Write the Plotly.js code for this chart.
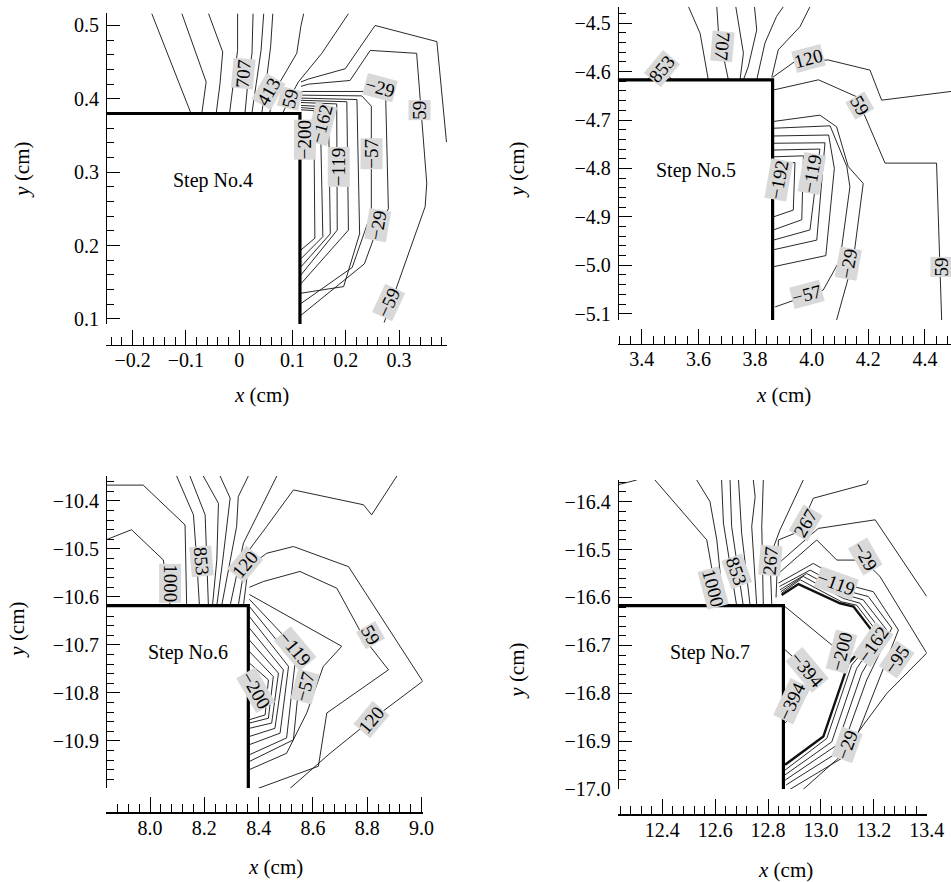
<!DOCTYPE html>
<html>
<head>
<meta charset="utf-8">
<script src="https://cdn.plot.ly/plotly-3.0.1.min.js"></script>
<style>html,body{margin:0;padding:0;background:#fff;}#chart{width:951px;height:882px;}</style>
</head>
<body>
<div id="chart"></div>
<script>
// ---------------- DATA ----------------
// Contour lines (x, y in cm), one array per panel
const panel1Contours = [
  [[-0.164,0.516],[-0.091,0.381]],
  [[-0.1075,0.516],[-0.062,0.423],[-0.07,0.381]],
  [[-0.0575,0.516],[-0.031,0.464],[-0.036,0.421],[-0.043,0.381]],
  [[-0.003,0.516],[-0.003,0.466],[-0.011,0.421],[-0.018,0.381]],
  [[0.026,0.516],[0.024,0.462],[0.016,0.421],[0.011,0.381]],
  [[0.046,0.516],[0.041,0.466],[0.032,0.421],[0.024,0.381]],
  [[0.063,0.516],[0.059,0.471],[0.051,0.425],[0.0425,0.381]],
  [[0.121,0.516],[0.116,0.5],[0.108,0.462],[0.071,0.416],[0.057,0.381]],
  [[0.205,0.516],[0.155,0.462],[0.111,0.423],[0.096,0.403],[0.082,0.381]],
  [[0.389,0.341],[0.371,0.478],[0.255,0.5],[0.199,0.441],[0.13,0.427],[0.116,0.423]],
  [[0.272,0.095],[0.349,0.253],[0.352,0.285],[0.333,0.462],[0.246,0.466],[0.208,0.425],[0.13,0.42],[0.116,0.417]],
  [[0.116,0.385],[0.14,0.384],[0.142,0.21],[0.116,0.194]],
  [[0.116,0.388],[0.152,0.386],[0.157,0.212],[0.116,0.182]],
  [[0.116,0.391],[0.1675,0.389],[0.171,0.216],[0.116,0.171]],
  [[0.116,0.395],[0.183,0.393],[0.184,0.221],[0.116,0.16]],
  [[0.116,0.398],[0.202,0.396],[0.205,0.221],[0.116,0.148]],
  [[0.116,0.401],[0.221,0.399],[0.226,0.216],[0.196,0.144],[0.116,0.135]],
  [[0.116,0.405],[0.23,0.404],[0.248,0.39],[0.248,0.245],[0.212,0.17],[0.116,0.121]],
  [[0.116,0.41],[0.235,0.41],[0.275,0.4],[0.28,0.25],[0.26,0.225],[0.235,0.175],[0.116,0.105]]
];
const panel2Contours = [
  [[3.418,-4.617],[3.471,-4.59],[3.506,-4.617]],
  [[3.565,-4.466],[3.606,-4.521],[3.635,-4.617]],
  [[3.665,-4.466],[3.671,-4.521],[3.706,-4.617]],
  [[3.732,-4.466],[3.759,-4.562],[3.747,-4.617]],
  [[3.798,-4.466],[3.806,-4.514],[3.776,-4.59],[3.759,-4.617]],
  [[3.9,-4.466],[3.876,-4.486],[3.835,-4.541],[3.806,-4.617]],
  [[3.994,-4.466],[3.959,-4.507],[3.882,-4.555],[3.859,-4.612]],
  [[3.862,-4.612],[3.941,-4.579],[4.059,-4.576],[4.206,-4.597],[4.247,-4.659],[4.492,-4.641]],
  [[3.865,-4.638],[4.024,-4.617],[4.159,-4.652],[4.259,-4.789],[4.441,-4.789],[4.459,-5.113]],
  [[3.865,-4.703],[4.029,-4.69],[4.088,-4.714],[4.129,-4.796],[4.182,-4.831],[4.147,-4.989],[4.088,-5.113]],
  [[3.865,-4.717],[4.065,-4.712],[4.124,-4.796],[4.135,-4.838],[4.1,-4.989],[4.041,-5.051],[3.871,-5.086]],
  [[3.865,-4.733],[4.06,-4.731],[4.08,-4.8],[4.05,-4.98],[3.865,-5.003]],
  [[3.865,-4.748],[4.047,-4.747],[4.018,-4.948],[3.865,-4.968]],
  [[3.865,-4.762],[4.029,-4.76],[3.994,-4.927],[3.865,-4.948]],
  [[3.865,-4.776],[3.971,-4.774],[3.965,-4.906],[3.865,-4.927]],
  [[3.865,-4.789],[3.941,-4.788],[3.935,-4.886],[3.865,-4.9]]
];
const panel3Contours = [
  [[7.838,-10.367],[7.975,-10.367],[8.129,-10.45],[8.135,-10.618]],
  [[7.838,-10.481],[7.932,-10.46],[8.049,-10.523],[8.074,-10.618]],
  [[8.098,-10.348],[8.16,-10.429],[8.172,-10.523],[8.182,-10.618]],
  [[8.147,-10.348],[8.203,-10.429],[8.209,-10.523],[8.215,-10.618]],
  [[8.196,-10.348],[8.252,-10.405],[8.246,-10.523],[8.23,-10.618]],
  [[8.258,-10.348],[8.295,-10.394],[8.268,-10.523],[8.246,-10.618]],
  [[8.362,-10.348],[8.325,-10.391],[8.319,-10.453],[8.264,-10.618]],
  [[8.467,-10.348],[8.344,-10.488],[8.295,-10.618]],
  [[8.909,-10.348],[8.816,-10.429],[8.786,-10.408],[8.528,-10.377],[8.43,-10.453],[8.356,-10.509],[8.325,-10.618]],
  [[8.344,-10.618],[8.362,-10.537],[8.43,-10.509],[8.528,-10.495],[8.731,-10.537],[9.004,-10.776],[8.816,-10.856],[8.663,-10.926],[8.516,-10.999]],
  [[8.366,-10.58],[8.417,-10.568],[8.552,-10.547],[8.688,-10.582],[8.792,-10.69],[8.878,-10.752],[8.651,-10.842],[8.62,-10.953],[8.399,-10.999]],
  [[8.366,-10.595],[8.645,-10.683],[8.706,-10.703],[8.638,-10.745],[8.577,-10.842],[8.503,-10.926],[8.366,-10.96]],
  [[8.366,-10.605],[8.559,-10.721],[8.528,-10.898],[8.366,-10.943]],
  [[8.366,-10.62],[8.534,-10.738],[8.503,-10.894],[8.366,-10.929]],
  [[8.366,-10.641],[8.51,-10.745],[8.479,-10.884],[8.366,-10.908]],
  [[8.366,-10.665],[8.491,-10.752],[8.46,-10.874],[8.366,-10.891]],
  [[8.366,-10.69],[8.473,-10.759],[8.448,-10.863],[8.366,-10.874]],
  [[8.366,-10.714],[8.454,-10.766],[8.436,-10.853],[8.366,-10.863]],
  [[8.366,-10.738],[8.436,-10.773],[8.424,-10.846],[8.366,-10.856]]
];
const panel4Contours = [
  [[12.231,-16.365],[12.303,-16.355]],
  [[12.372,-16.355],[12.568,-16.48],[12.612,-16.617]],
  [[12.53,-16.355],[12.58,-16.4],[12.606,-16.48],[12.631,-16.617]],
  [[12.624,-16.355],[12.631,-16.445],[12.681,-16.617]],
  [[12.656,-16.355],[12.662,-16.452],[12.706,-16.617]],
  [[12.688,-16.355],[12.7,-16.466],[12.732,-16.617]],
  [[12.744,-16.355],[12.751,-16.39],[12.738,-16.452],[12.757,-16.617]],
  [[12.782,-16.355],[12.776,-16.452],[12.782,-16.617]],
  [[12.933,-16.355],[12.845,-16.459],[12.807,-16.515],[12.814,-16.617]],
  [[13.179,-16.356],[13.173,-16.363],[12.971,-16.393],[12.915,-16.463],[12.839,-16.48],[12.83,-16.6]],
  [[12.839,-16.529],[12.99,-16.456],[13.205,-16.438],[13.4,-16.598]],
  [[12.839,-16.55],[12.984,-16.48],[13.06,-16.522],[13.16,-16.522],[13.223,-16.556],[13.4,-16.716],[13.249,-16.8],[13.072,-16.932],[12.933,-17.0]],
  [[12.839,-16.57],[12.971,-16.529],[13.123,-16.577],[13.198,-16.588],[13.293,-16.668],[13.205,-16.793],[13.11,-16.925],[12.883,-17.0]],
  [[12.843,-16.577],[12.959,-16.543],[13.11,-16.588],[13.179,-16.598],[13.268,-16.664],[13.173,-16.772],[13.078,-16.918],[12.868,-16.991]],
  [[12.845,-16.584],[12.946,-16.55],[13.097,-16.595],[13.16,-16.605],[13.249,-16.668],[13.154,-16.758],[13.06,-16.908],[12.864,-16.981]],
  [[12.848,-16.588],[12.933,-16.556],[13.085,-16.602],[13.148,-16.612],[13.23,-16.671],[13.135,-16.748],[13.041,-16.901],[12.864,-16.97]],
  [[12.851,-16.591],[12.921,-16.563],[13.078,-16.609],[13.135,-16.616],[13.217,-16.675],[13.116,-16.741],[13.022,-16.894],[12.864,-16.96]],
  [[12.864,-16.619],[13.041,-16.699]],
  [[12.864,-16.709],[12.978,-16.765],[12.921,-16.828],[12.864,-16.862]]
];
// the heavy contour in step 7
const panel4HeavyContour = [[12.851,-16.595],[12.915,-16.572],[13.072,-16.612],[13.123,-16.619],[13.205,-16.678],[13.104,-16.737],[13.009,-16.89],[12.864,-16.949]];

// Contour labels: [text, x, y]
const panel1Labels = [["707",0.007,0.435],["413",0.055,0.41],["59",0.096,0.4],["−162",0.155,0.366],["−200",0.124,0.344],["−119",0.186,0.307],["−57",0.249,0.325],["−29",0.264,0.415],["59",0.339,0.385],["−29",0.261,0.228],["−59",0.28,0.123]];
const panel2Labels = [["853",3.471,-4.593],["707",3.685,-4.548],["120",3.988,-4.572],["59",4.171,-4.669],["−192",3.882,-4.824],["−119",4.0,-4.81],["−29",4.129,-4.996],["−57",3.982,-5.061],["59",4.459,-5.003]];
const panel3Labels = [["1000",8.074,-10.572],["853",8.19,-10.526],["120",8.35,-10.533],["59",8.81,-10.679],["−119",8.534,-10.707],["−57",8.571,-10.787],["−200",8.387,-10.794],["120",8.816,-10.856]];
const panel4Labels = [["1000",12.593,-16.581],["853",12.681,-16.546],["267",12.807,-16.522],["267",12.94,-16.445],["−29",13.167,-16.515],["−119",13.06,-16.57],["−200",13.078,-16.713],["−162",13.198,-16.699],["−95",13.287,-16.73],["−394",12.946,-16.751],["−394",12.889,-16.817],["−29",13.097,-16.908]];
// label rotation (style)
const panel1Angles = [-85,-60,-75,-75,-90,-90,-90,15,-90,-80,-65];
const panel2Angles = [-50,95,-15,60,-80,-80,-80,-15,-90];
const panel3Angles = [90,85,-50,60,50,-75,60,-50];
const panel4Angles = [75,70,-85,-60,60,20,-75,-55,-55,50,-65,-70];

// Step outlines (x, y in cm)
const stepX = [[-0.25,0.114,0.114],[3.315,3.862,3.862],[7.838,8.362,8.362],[12.231,12.858,12.858]];
const stepY = [[0.38,0.38,0.093],[-4.617,-4.617,-5.113],[-10.618,-10.618,-10.999],[-16.617,-16.617,-17.0]];
const stepNames = ["Step No.4","Step No.5","Step No.6","Step No.7"];
const stepNameX = [-0.049,3.592,8.141,12.58];
const stepNameY = [0.289,-4.805,-10.716,-16.715];

// Axis ranges and ticks
const xRanges = [[-0.25,0.39],[3.315,4.492],[7.838,9.004],[12.231,13.4]];
const yRanges = [[0.093,0.517],[-5.113,-4.466],[-10.999,-10.348],[-17.0,-16.355]];
const xDtick = [0.1,0.2,0.2,0.2];
const xMinor = [0.02,0.04,0.04,0.04];
const yDtick = [0.1,0.1,0.1,0.1];
const yMinor = [0.02,0.02,0.02,0.02];
const xFormat = ["", ".1f", ".1f", ".1f"];

// ---------------- BUILD ----------------
const FONT = "Liberation Serif, Times New Roman, serif";
const W = 951, H = 882;
const px = v => v / W, py = v => 1 - v / H;

// panel frame in pixels: [xLeft, xRight, yTop, yBottom, xAxisLineY]
const frames = [
  [106, 447, 13, 324, 345],
  [617.7, 951, 6.7, 320, 343.5],
  [106, 422.7, 476, 788.3, 812.3],
  [617.7, 926.7, 480, 789.3, 814.3]
];

const contours = [panel1Contours, panel2Contours, panel3Contours, panel4Contours];
const labels = [panel1Labels, panel2Labels, panel3Labels, panel4Labels];
const angles = [panel1Angles, panel2Angles, panel3Angles, panel4Angles];

const traces = [];
const annotations = [];
const layout = {
  width: W, height: H,
  margin: {l: 0, r: 0, t: 0, b: 0},
  paper_bgcolor: '#fff', plot_bgcolor: 'rgba(0,0,0,0)',
  showlegend: false,
  font: {family: FONT, color: '#000', size: 20}
};

for (let i = 0; i < 4; i++) {
  const s = i === 0 ? '' : String(i + 1);
  const xa = 'x' + s, ya = 'y' + s;
  const f = frames[i];
  layout['xaxis' + s] = {
    domain: [px(f[0]), px(f[1])], range: xRanges[i], anchor: 'free', position: py(f[4]),
    showline: true, linecolor: '#000', linewidth: 1.2, showgrid: false, zeroline: false,
    ticks: 'inside', ticklen: 15, tickwidth: 1, tickcolor: '#000',
    dtick: xDtick[i], tick0: 0, tickformat: xFormat[i],
    minor: {ticks: 'inside', ticklen: 8, tickwidth: 1, tickcolor: '#000', dtick: xMinor[i], tick0: 0, showgrid: false},
    tickfont: {family: FONT, size: 20, color: '#000'}, ticklabelstandoff: -3, fixedrange: true
  };
  layout['yaxis' + s] = {
    domain: [py(f[3]), py(f[2])], range: yRanges[i], anchor: 'free', position: px(f[0]),
    showline: true, linecolor: '#000', linewidth: 1.2, showgrid: false, zeroline: false,
    ticks: 'inside', ticklen: 13, tickwidth: 1, tickcolor: '#000',
    dtick: yDtick[i], tick0: 0, tickformat: '.1f',
    minor: {ticks: 'inside', ticklen: 7, tickwidth: 1, tickcolor: '#000', dtick: yMinor[i], tick0: 0, showgrid: false},
    tickfont: {family: FONT, size: 20, color: '#000'}, ticklabelstandoff: 3, fixedrange: true
  };

  contours[i].forEach(pts => traces.push({
    type: 'scatter', mode: 'lines', xaxis: xa, yaxis: ya,
    x: pts.map(p => p[0]), y: pts.map(p => p[1]),
    line: {color: '#111', width: 0.9}, hoverinfo: 'skip'
  }));
  if (i === 3) {
    traces.push({
      type: 'scatter', mode: 'lines', xaxis: xa, yaxis: ya,
      x: panel4HeavyContour.map(p => p[0]), y: panel4HeavyContour.map(p => p[1]),
      line: {color: '#111', width: 2.4}, hoverinfo: 'skip'
    });
  }
  traces.push({
    type: 'scatter', mode: 'lines', xaxis: xa, yaxis: ya,
    x: stepX[i], y: stepY[i], line: {color: '#000', width: 3.2}, hoverinfo: 'skip'
  });

  labels[i].forEach((lb, k) => annotations.push({
    xref: xa, yref: ya, x: lb[1], y: lb[2], text: lb[0], textangle: angles[i][k],
    showarrow: false, bgcolor: '#d9d9d9', borderpad: 0,
    font: {family: FONT, size: 19, color: '#000'}
  }));
  annotations.push({
    xref: xa, yref: ya, x: stepNameX[i], y: stepNameY[i], text: stepNames[i],
    showarrow: false, font: {family: FONT, size: 20, color: '#000'}
  });
}

// axis titles (pixel positions of their centres)
const xTitlePos = [[261.7, 395], [783.3, 395], [275.7, 866.7], [785, 870]];
const yTitlePos = [[21.7, 170], [516.7, 170], [16.7, 630], [516.7, 671]];
for (let i = 0; i < 4; i++) {
  annotations.push({xref: 'paper', yref: 'paper', x: px(xTitlePos[i][0]), y: py(xTitlePos[i][1]),
    xanchor: 'center', yanchor: 'middle', text: '<i>x</i> (cm)', showarrow: false,
    font: {family: FONT, size: 21, color: '#000'}});
  annotations.push({xref: 'paper', yref: 'paper', x: px(yTitlePos[i][0]), y: py(yTitlePos[i][1]),
    xanchor: 'center', yanchor: 'middle', text: '<i>y</i> (cm)', textangle: -90, showarrow: false,
    font: {family: FONT, size: 21, color: '#000'}});
}
layout.annotations = annotations;

Plotly.newPlot('chart', traces, layout, {staticPlot: true, displayModeBar: false});
</script>
</body>
</html>
